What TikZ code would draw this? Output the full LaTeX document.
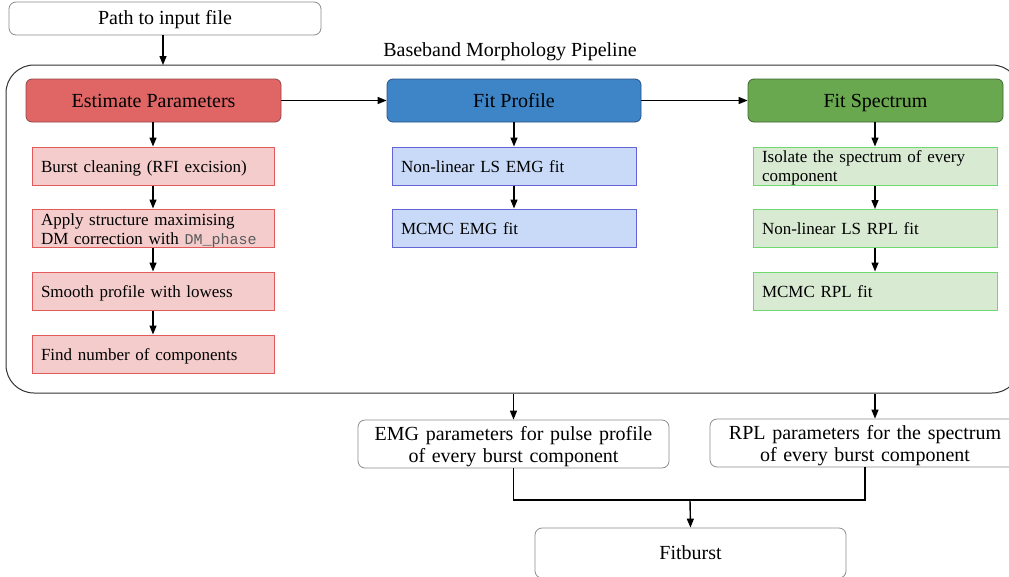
\documentclass[tikz,border=0pt]{standalone}
\usepackage{fontspec}
\setmainfont{Liberation Serif}
\setmonofont{Liberation Mono}
\usetikzlibrary{arrows.meta}
\definecolor{hdrred}{RGB}{224,102,102}
\definecolor{hdrredb}{RGB}{150,70,70}
\definecolor{hdrblue}{RGB}{61,133,198}
\definecolor{hdrblueb}{RGB}{40,80,130}
\definecolor{hdrgreen}{RGB}{106,168,79}
\definecolor{hdrgreenb}{RGB}{60,100,50}
\definecolor{subred}{RGB}{244,204,204}
\definecolor{subredb}{RGB}{226,90,90}
\definecolor{subblue}{RGB}{201,218,248}
\definecolor{subblueb}{RGB}{100,100,215}
\definecolor{subgreen}{RGB}{217,234,211}
\definecolor{subgreenb}{RGB}{110,218,110}
\definecolor{plainb}{RGB}{140,140,140}
\definecolor{monogray}{RGB}{90,90,90}
\tikzset{
  bigtext/.style={font=\fontsize{20}{22}\selectfont},
  plainbox/.style={draw=plainb, line width=0.8pt, fill=white, rounded corners=7pt, align=center, bigtext, inner sep=0pt},
  hdrbox/.style={rounded corners=6pt, line width=0.8pt, minimum width=255pt, minimum height=43pt, inner sep=0pt, bigtext, text height=14pt, text depth=0pt},
  subbox/.style={line width=1pt, minimum height=38pt, inner xsep=9pt, inner ysep=0pt, align=left, font=\fontsize{17}{19.5}\selectfont, text height=12pt, text depth=0pt},
  twoline/.style={text height=12pt, text depth=20pt},
  redsub/.style={subbox, draw=subredb, fill=subred, text width=224pt},
  bluesub/.style={subbox, draw=subblueb, fill=subblue, text width=226pt},
  greensub/.style={subbox, draw=subgreenb, fill=subgreen, text width=226pt},
  arr/.style={line width=1.4pt, -{Triangle[length=9pt,width=7pt]}},
  ln/.style={line width=1.4pt},
}
\begin{document}
\begin{tikzpicture}[x=1pt,y=-1pt]
\useasboundingbox (0,0) rectangle (1009,576);
\clip (0,0) rectangle (1009,576);
% container
\node[draw=black!80, line width=1pt, rounded corners=28pt, minimum width=1014pt, minimum height=328pt, inner sep=0pt] (pipe) at (513,229) {};
\node[bigtext, anchor=base] (title) at (510,56) {Baseband Morphology Pipeline};
% input
\node[plainbox, minimum width=312pt, minimum height=33pt, text height=14pt, text depth=3pt] (input) at (165,18.5) {Path to input file};
% headers
\node[hdrbox, fill=hdrred, draw=hdrredb] (est) at (153.5,100.5) {Estimate Parameters};
\node[hdrbox, fill=hdrblue, draw=hdrblueb, minimum width=254pt] (prof) at (514,100.5) {Fit Profile};
\node[hdrbox, fill=hdrgreen, draw=hdrgreenb] (spec) at (875.5,100.5) {Fit Spectrum};
% red column
\node[redsub] (r1) at (153,166) {Burst cleaning (RFI excision)};
\node[redsub, text height=12pt, text depth=18pt] (r2) at (153,228) {Apply structure maximising\\\mbox{DM correction with {\ttfamily\color{monogray}\fontsize{15}{19.5}\selectfont DM\_phase}}};
\node[redsub] (r3) at (153,291) {Smooth profile with lowess};
\node[redsub] (r4) at (153,354) {Find number of components};
% blue column
\node[bluesub] (b1) at (514,166) {Non-linear LS EMG fit};
\node[bluesub] (b2) at (514,228) {MCMC EMG fit};
% green column
\node[greensub, twoline] (g1) at (875,166) {Isolate the spectrum of every\\component};
\node[greensub] (g2) at (875,228.5) {Non-linear LS RPL fit};
\node[greensub] (g3) at (875,291) {MCMC RPL fit};
% outputs
\node[plainbox, minimum width=311pt, minimum height=48pt, text width=300pt, text height=14pt, text depth=22pt] (emg) at (513.5,444) {EMG parameters for pulse profile\\of every burst component};
\node[plainbox, minimum width=310pt, minimum height=48pt, text width=300pt, text height=14pt, text depth=22pt] (rpl) at (865,443) {RPL parameters for the spectrum\\of every burst component};
\node[plainbox, minimum width=311pt, minimum height=50pt, text height=14pt, text depth=2pt] (fit) at (690.5,553) {Fitburst};
% connectors
\draw[arr] (163,35) -- (163,65);
\draw[arr] (est.east) -- (prof.west);
\draw[arr] (prof.east) -- (spec.west);
\draw[arr] (est.south -| r1.north) -- (r1.north);
\draw[arr] (r1) -- (r2);
\draw[arr] (r2) -- (r3);
\draw[arr] (r3) -- (r4);
\draw[arr] (prof) -- (b1);
\draw[arr] (b1) -- (b2);
\draw[arr] (spec.south -| g1.north) -- (g1.north);
\draw[arr] (g1) -- (g2);
\draw[arr] (g2) -- (g3);
\draw[arr] (emg.north |- pipe.south) -- (emg.north);
\draw[arr] (g1.south |- pipe.south) -- (g1.south |- rpl.north);
\coordinate (j) at (690,500);
\draw[ln] (emg.south) |- (j) -| (rpl.south);
\draw[arr] (j) -- (fit.north);
\end{tikzpicture}
\end{document}
